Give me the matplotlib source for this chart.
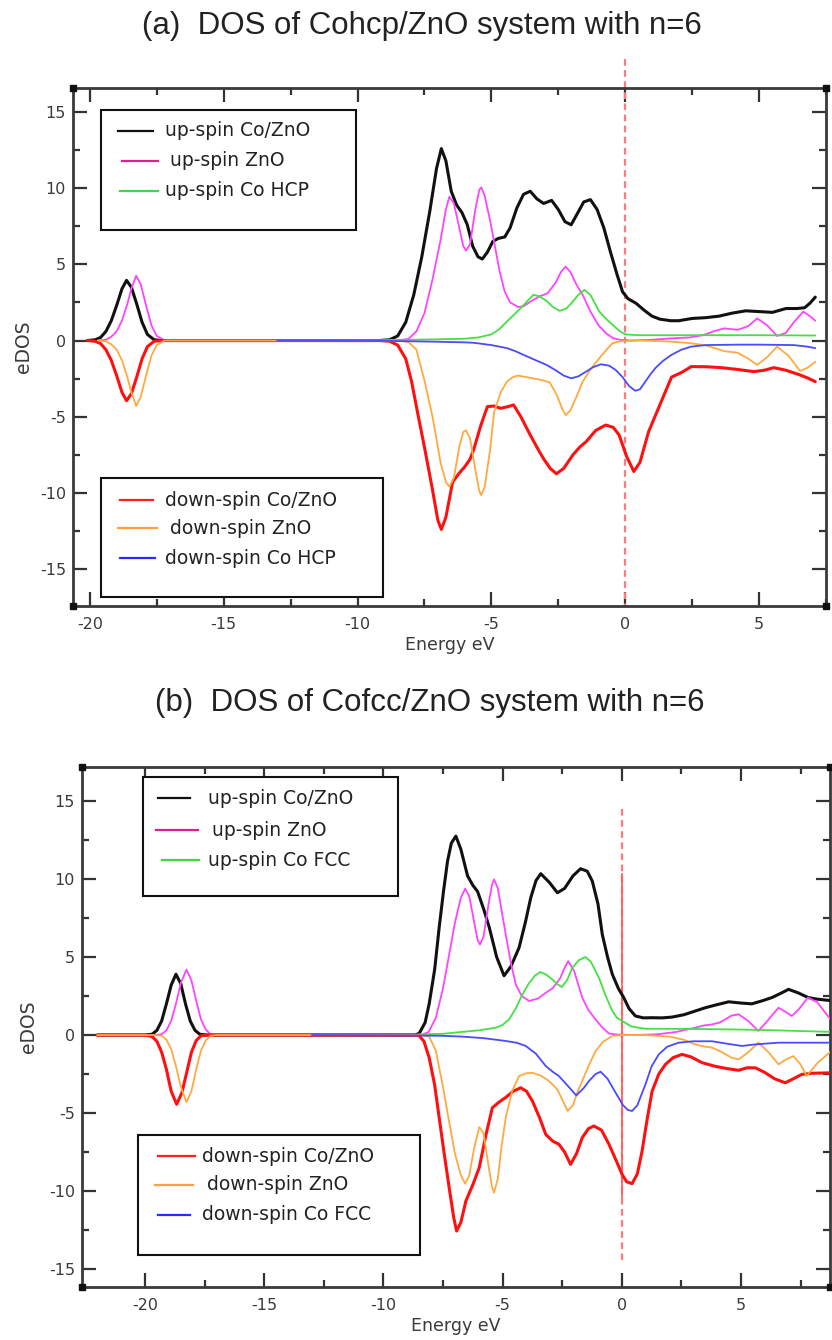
import matplotlib
matplotlib.use('Agg')
import matplotlib.pyplot as plt
from matplotlib.lines import Line2D
from matplotlib.patches import Rectangle

plt.rcParams['axes.unicode_minus'] = False
plt.rcParams['font.family'] = ['DejaVu Sans']

# ---------------- data: panel (a) Co hcp ----------------
a_up_total_x = [-20.1, -19.8, -19.6, -19.4, -19.2, -19.0, -18.8, -18.63, -18.45, -18.25, -18.05, -17.85, -17.6, -17.3,
                -9.2, -8.8, -8.5, -8.2, -7.9, -7.6, -7.3, -7.05, -6.87, -6.7, -6.5, -6.3, -6.1, -5.9, -5.7, -5.5, -5.34,
                -5.15, -4.95, -4.75, -4.5, -4.3, -4.05, -3.8, -3.55, -3.3, -3.05, -2.75, -2.5, -2.25, -2.02, -1.8, -1.55,
                -1.3, -1.05, -0.8, -0.55, -0.3, -0.1, 0.1, 0.4, 0.7, 1.0, 1.3, 1.7, 2.0, 2.5, 3.0, 3.5, 4.0, 4.5, 5.0,
                5.5, 6.0, 6.4, 6.7, 6.9, 7.1]
a_up_total_y = [0, 0.05, 0.2, 0.6, 1.3, 2.3, 3.4, 3.95, 3.5, 2.4, 1.2, 0.4, 0.05, 0,
                0, 0.05, 0.3, 1.2, 3.0, 5.5, 8.5, 11.3, 12.6, 11.8, 9.8, 8.9, 8.4, 7.6, 6.2, 5.5, 5.35,
                5.8, 6.5, 6.7, 6.8, 7.4, 8.7, 9.6, 9.8, 9.3, 9.0, 9.2, 8.6, 7.8, 7.6, 8.3, 9.1,
                9.25, 8.6, 7.4, 5.8, 4.3, 3.2, 2.75, 2.45, 2.0, 1.6, 1.4, 1.3, 1.3, 1.45, 1.5, 1.6, 1.8, 1.95, 1.9,
                1.85, 2.1, 2.1, 2.15, 2.45, 2.85]

a_up_zno_x = [-19.7, -19.4, -19.2, -19.0, -18.8, -18.6, -18.45, -18.27, -18.1, -17.9, -17.7, -17.5, -17.2,
              -8.6, -8.1, -7.8, -7.5, -7.2, -6.9, -6.7, -6.57, -6.4, -6.2, -6.05, -5.95, -5.8, -5.6, -5.45, -5.38,
              -5.25, -5.05, -4.9, -4.7, -4.5, -4.3, -4.0, -3.8, -3.5, -3.2, -2.9, -2.6, -2.4, -2.23, -2.05, -1.8,
              -1.59, -1.3, -1.0, -0.7, -0.45, -0.2, 0.2, 1.0, 1.8, 2.4, 2.9, 3.3, 3.7, 4.2, 4.6, 4.93, 5.3, 5.67,
              6.0, 6.3, 6.65, 6.9, 7.1]
a_up_zno_y = [0, 0.05, 0.25, 0.6, 1.3, 2.4, 3.4, 4.25, 3.7, 2.3, 1.0, 0.3, 0,
              0, 0.1, 0.6, 1.8, 4.0, 6.6, 8.6, 9.45, 9.0, 7.4, 6.2, 5.9, 6.3, 8.6, 9.9, 10.05,
              9.5, 7.9, 6.5, 4.6, 3.2, 2.5, 2.2, 2.25, 2.6, 2.9, 3.1, 3.8, 4.5, 4.85, 4.5, 3.6,
              3.0, 1.9, 1.0, 0.45, 0.15, 0.05, 0.0, 0.05, 0.15, 0.2, 0.35, 0.6, 0.8, 0.7, 0.95, 1.45, 1.0, 0.3,
              0.5, 1.2, 1.9, 1.6, 1.3]

a_up_co_x = [-13.0, -9.0, -8.0, -7.0, -6.0, -5.5, -5.0, -4.7, -4.42, -4.15, -3.92, -3.65, -3.43, -3.2, -2.94,
             -2.7, -2.45, -2.2, -1.96, -1.75, -1.52, -1.3, -0.97, -0.7, -0.48, -0.2, 0.01, 0.5, 1.5, 3.0, 5.0, 7.1]
a_up_co_y = [0, 0.02, 0.05, 0.08, 0.12, 0.2, 0.4, 0.75, 1.25, 1.7, 2.1, 2.6, 3.0, 2.9, 2.6,
             2.2, 1.95, 2.1, 2.55, 3.0, 3.33, 3.0, 1.9, 1.4, 1.05, 0.6, 0.4, 0.35, 0.35, 0.35, 0.35, 0.33]

a_dn_total_x = [-20.1, -19.8, -19.6, -19.4, -19.2, -19.0, -18.8, -18.63, -18.45, -18.25, -18.05, -17.85, -17.6, -17.3,
                -9.2, -8.8, -8.5, -8.2, -7.98, -7.75, -7.49, -7.2, -7.0, -6.87, -6.7, -6.45, -6.2, -6.0, -5.8, -5.65,
                -5.4, -5.15, -4.9, -4.66, -4.4, -4.17, -3.9, -3.55, -3.3, -3.06, -2.8, -2.57, -2.3, -1.96, -1.7, -1.46,
                -1.1, -0.73, -0.45, -0.23, 0.05, 0.32, 0.55, 0.87, 1.3, 1.73, 2.1, 2.47, 3.0, 3.58, 4.2, 4.8, 5.2,
                5.55, 6.0, 6.53, 6.8, 7.1]
a_dn_total_y = [0, -0.05, -0.2, -0.6, -1.3, -2.3, -3.4, -3.95, -3.5, -2.4, -1.2, -0.4, -0.05, 0,
                0, -0.05, -0.3, -1.2, -2.7, -4.8, -7.1, -9.8, -11.8, -12.4, -11.6, -9.3, -8.7, -8.3, -7.8, -7.1,
                -5.6, -4.34, -4.3, -4.45, -4.35, -4.23, -5.0, -6.2, -7.0, -7.74, -8.4, -8.75, -8.4, -7.52, -7.0, -6.64,
                -5.9, -5.55, -5.7, -6.2, -7.6, -8.6, -8.0, -6.0, -4.2, -2.4, -2.1, -1.71, -1.72, -1.78, -1.9, -2.04, -1.95,
                -1.78, -1.95, -2.26, -2.45, -2.7]

a_dn_zno_x = [-19.7, -19.4, -19.2, -19.0, -18.8, -18.6, -18.45, -18.27, -18.1, -17.9, -17.7, -17.5, -17.2,
              -8.6, -8.1, -7.8, -7.49, -7.2, -6.9, -6.7, -6.57, -6.4, -6.2, -6.05, -5.95, -5.8, -5.6, -5.45, -5.38,
              -5.25, -5.05, -4.9, -4.65, -4.42, -4.2, -4.0, -3.7, -3.4, -3.1, -2.82, -2.55, -2.35, -2.23, -2.05, -1.8,
              -1.59, -1.3, -0.97, -0.7, -0.48, -0.2, 0.5, 1.5, 2.3, 2.96, 3.35, 3.7, 4.2, 4.6, 4.93, 5.3, 5.67, 6.1,
              6.53, 6.8, 7.1]
a_dn_zno_y = [0, -0.05, -0.25, -0.6, -1.3, -2.4, -3.4, -4.3, -3.7, -2.3, -1.0, -0.3, 0,
              0, -0.1, -0.6, -2.7, -5.0, -8.0, -9.3, -9.6, -9.0, -7.0, -6.0, -5.9, -6.4, -8.5, -9.9, -10.15,
              -9.6, -7.2, -4.7, -3.4, -2.7, -2.4, -2.3, -2.4, -2.5, -2.6, -2.75, -3.6, -4.5, -4.9, -4.6, -3.6,
              -2.7, -1.9, -1.16, -0.6, -0.18, -0.05, 0.0, -0.05, -0.15, -0.3, -0.5, -0.7, -0.8, -1.2, -1.6, -1.1,
              -0.4, -1.0, -2.0, -1.8, -1.4]

a_dn_co_x = [-13.0, -9.0, -8.0, -7.0, -6.0, -5.65, -5.0, -4.42, -4.1, -3.8, -3.4, -2.94, -2.6, -2.3, -2.02, -1.75,
             -1.46, -1.2, -0.91, -0.6, -0.36, -0.1, 0.15, 0.38, 0.55, 0.75, 0.95, 1.12, 1.4, 1.73, 2.1, 2.47, 3.0,
             4.2, 5.0, 6.3, 6.8, 7.1]
a_dn_co_y = [0, -0.02, -0.05, -0.08, -0.12, -0.15, -0.3, -0.5, -0.7, -0.94, -1.25, -1.6, -1.95, -2.3, -2.48, -2.35,
             -2.04, -1.75, -1.56, -1.65, -1.93, -2.4, -3.0, -3.3, -3.2, -2.7, -2.2, -1.82, -1.35, -0.94, -0.6, -0.4, -0.3,
             -0.27, -0.27, -0.3, -0.4, -0.5]

# ---------------- data: panel (b) Co fcc ----------------
b_up_total_x = [-22.0, -20.0, -19.7, -19.5, -19.3, -19.1, -18.9, -18.7, -18.5, -18.3, -18.1, -17.9, -17.7, -17.4,
                -8.7, -8.5, -8.25, -8.08, -7.85, -7.66, -7.48, -7.31, -7.15, -6.96, -6.75, -6.47, -6.25, -6.05, -5.8,
                -5.56, -5.25, -4.94, -4.65, -4.31, -4.05, -3.82, -3.6, -3.4, -3.05, -2.7, -2.4, -2.05, -1.73, -1.45,
                -1.24, -1.0, -0.82, -0.6, -0.4, -0.15, 0.08, 0.3, 0.57, 0.9, 1.27, 1.7, 2.1, 2.6, 3.08, 3.5, 4.0,
                4.48, 5.0, 5.45, 5.9, 6.29, 6.7, 6.99, 7.4, 7.82, 8.2, 8.8]
b_up_total_y = [0, 0, 0.05, 0.3, 0.9, 2.0, 3.2, 3.9, 3.3, 2.0, 0.9, 0.3, 0.05, 0,
                0, 0.1, 0.8, 2.0, 4.2, 6.9, 9.2, 11.15, 12.3, 12.75, 11.9, 10.2, 9.6, 9.2, 8.1,
                6.9, 5.0, 3.8, 4.4, 5.6, 7.2, 8.8, 9.9, 10.34, 9.8, 9.12, 9.4, 10.2, 10.66, 10.5,
                9.87, 8.4, 6.45, 5.0, 3.9, 3.0, 2.4, 1.7, 1.22, 1.1, 1.11, 1.1, 1.15, 1.3, 1.54, 1.75, 1.95,
                2.13, 2.05, 2.0, 2.2, 2.4, 2.7, 2.93, 2.7, 2.4, 2.3, 2.2]

b_up_zno_x = [-22.0, -19.6, -19.3, -19.1, -18.9, -18.7, -18.5, -18.26, -18.05, -17.85, -17.65, -17.45, -17.25, -17.0,
              -8.4, -8.1, -7.8, -7.5, -7.24, -7.0, -6.75, -6.57, -6.4, -6.2, -6.05, -5.95, -5.8, -5.6, -5.45, -5.36,
              -5.2, -5.0, -4.87, -4.65, -4.45, -4.2, -3.89, -3.5, -3.19, -2.9, -2.6, -2.4, -2.25, -2.0, -1.66, -1.4,
              -1.1, -0.8, -0.54, -0.2, 0.5, 1.5, 2.3, 2.7, 3.08, 3.4, 3.78, 4.1, 4.34, 4.6, 4.9, 5.3, 5.73, 6.1,
              6.57, 6.85, 7.13, 7.45, 7.8, 8.2, 8.8]
b_up_zno_y = [0, 0, 0.05, 0.3, 0.9, 2.0, 3.3, 4.2, 3.5, 2.2, 1.0, 0.35, 0.05, 0,
              0, 0.2, 1.1, 3.0, 5.17, 7.2, 8.8, 9.38, 8.9, 7.3, 6.1, 5.8, 6.3, 8.3, 9.6, 9.98,
              9.4, 7.6, 6.45, 4.6, 3.25, 2.5, 2.18, 2.35, 2.71, 3.0, 3.6, 4.3, 4.74, 4.1, 2.39, 1.6,
              1.0, 0.45, 0.1, 0.03, 0.0, 0.05, 0.2, 0.35, 0.47, 0.6, 0.68, 0.8, 1.0, 1.25, 1.33, 0.9, 0.26, 0.9,
              1.75, 1.5, 1.22, 1.7, 2.4, 2.1, 0.9]

b_up_co_x = [-13.0, -9.0, -7.5, -6.7, -6.0, -5.28, -5.0, -4.73, -4.45, -4.17, -3.9, -3.65, -3.43, -3.2, -2.92,
             -2.7, -2.52, -2.3, -2.08, -1.8, -1.52, -1.3, -0.96, -0.7, -0.4, -0.2, 0.01, 0.4, 0.99, 2.0, 3.5, 5.0,
             6.5, 8.8]
b_up_co_y = [0, 0.02, 0.08, 0.2, 0.3, 0.47, 0.65, 1.0, 1.7, 2.6, 3.3, 3.8, 4.04, 3.9, 3.57,
             3.25, 3.08, 3.5, 4.3, 4.8, 5.0, 4.7, 3.67, 2.6, 1.54, 1.1, 0.9, 0.55, 0.4, 0.4, 0.38, 0.35,
             0.3, 0.2]

b_dn_total_x = [-22.0, -20.0, -19.7, -19.5, -19.3, -19.1, -18.9, -18.67, -18.45, -18.25, -18.05, -17.85, -17.65, -17.4,
                -8.7, -8.5, -8.3, -8.08, -7.85, -7.66, -7.45, -7.24, -7.05, -6.93, -6.75, -6.54, -6.25, -5.98, -5.7,
                -5.43, -5.15, -4.87, -4.55, -4.24, -4.0, -3.75, -3.45, -3.19, -2.9, -2.64, -2.4, -2.15, -1.9, -1.66,
                -1.4, -1.17, -0.85, -0.54, -0.25, 0.01, 0.2, 0.43, 0.65, 0.85, 1.05, 1.27, 1.55, 1.83, 2.15, 2.52,
                2.9, 3.36, 3.9, 4.4, 4.9, 5.25, 5.6, 6.0, 6.4, 6.85, 7.2, 7.55, 8.0, 8.8]
b_dn_total_y = [0, 0, -0.1, -0.4, -1.1, -2.2, -3.6, -4.44, -3.7, -2.4, -1.1, -0.35, -0.05, 0,
                0, -0.05, -0.4, -1.45, -3.2, -5.3, -7.6, -9.8, -11.7, -12.56, -12.0, -10.64, -9.6, -8.5, -6.4,
                -4.66, -4.3, -4.0, -3.6, -3.38, -3.6, -4.23, -5.3, -6.37, -6.8, -7.0, -7.5, -8.29, -7.6, -6.58,
                -6.0, -5.83, -6.1, -7.0, -8.0, -8.93, -9.4, -9.53, -8.9, -7.44, -5.5, -3.6, -2.5, -1.88, -1.45, -1.24,
                -1.4, -1.77, -2.0, -2.15, -2.26, -2.1, -2.1, -2.4, -2.8, -3.06, -2.8, -2.52, -2.45, -2.42]

b_dn_zno_x = [-22.0, -19.6, -19.3, -19.1, -18.9, -18.7, -18.5, -18.26, -18.05, -17.85, -17.65, -17.45, -17.25, -17.0,
              -8.4, -8.08, -7.8, -7.52, -7.25, -7.0, -6.75, -6.57, -6.4, -6.2, -5.98, -5.8, -5.6, -5.45, -5.36,
              -5.2, -5.05, -4.87, -4.6, -4.31, -4.0, -3.75, -3.4, -3.05, -2.7, -2.45, -2.27, -2.05, -1.85, -1.66,
              -1.4, -1.1, -0.8, -0.4, 0.0, 1.0, 2.0, 2.6, 3.08, 3.5, 3.78, 4.2, 4.6, 4.9, 5.3, 5.73, 6.15, 6.57,
              6.9, 7.2, 7.5, 7.75, 8.2, 8.8]
b_dn_zno_y = [0, 0, -0.05, -0.3, -0.9, -2.0, -3.3, -4.3, -3.6, -2.2, -1.0, -0.35, -0.05, 0,
              0, -0.1, -1.0, -3.16, -5.5, -7.6, -9.0, -9.53, -9.0, -7.3, -5.9, -6.3, -8.3, -9.7, -10.1,
              -9.2, -7.2, -5.3, -3.6, -2.63, -2.45, -2.42, -2.6, -2.95, -3.5, -4.3, -4.87, -4.5, -3.6, -2.95,
              -2.0, -1.03, -0.45, -0.06, 0.0, 0.0, -0.1, -0.3, -0.6, -0.75, -0.8, -1.1, -1.45, -1.56, -1.1, -0.49,
              -1.1, -1.88, -1.55, -1.35, -1.9, -2.63, -1.8, -1.0]

b_dn_co_x = [-13.0, -9.0, -7.5, -6.7, -5.8, -4.87, -4.4, -4.03, -3.6, -3.19, -2.9, -2.64, -2.3, -1.91, -1.6, -1.38,
             -1.1, -0.89, -0.6, -0.26, 0.05, 0.25, 0.43, 0.65, 0.99, 1.25, 1.55, 1.9, 2.38, 3.0, 3.78, 4.4, 5.03,
             5.6, 6.57, 7.5, 8.8]
b_dn_co_y = [0, -0.02, -0.05, -0.1, -0.2, -0.38, -0.5, -0.7, -1.2, -1.99, -2.35, -2.63, -3.2, -3.87, -3.4, -2.95,
             -2.5, -2.35, -2.8, -3.7, -4.5, -4.8, -4.87, -4.5, -3.16, -2.0, -1.24, -0.75, -0.49, -0.4, -0.4, -0.55, -0.7,
             -0.6, -0.49, -0.49, -0.49]

labels_a_up = ["up-spin Co/ZnO", "up-spin ZnO", "up-spin Co HCP"]
labels_a_dn = ["down-spin Co/ZnO", "down-spin ZnO", "down-spin Co HCP"]
labels_b_up = ["up-spin Co/ZnO", "up-spin ZnO", "up-spin Co FCC"]
labels_b_dn = ["down-spin Co/ZnO", "down-spin ZnO", "down-spin Co FCC"]
titles = ["(a)  DOS of Cohcp/ZnO system with n=6", "(b)  DOS of Cofcc/ZnO system with n=6"]
yticks = [-15, -10, -5, 0, 5, 10, 15]

# ---------------- styling ----------------
C_BLACK = '#111111'
C_MAG = '#ff44ff'
C_GREEN = '#44e044'
C_RED = '#ff1010'
C_ORANGE = '#ffaa40'
C_BLUE = '#4a4aff'
FERMI = '#ff7a7a'

W, H = 832, 1340
fig = plt.figure(figsize=(W / 100, H / 100), dpi=100)


def fx(px):
    return px / W


def fy(py):
    return 1 - py / H


def make_axes(l, t, r, b, xlim, ylim, xticks):
    ax = fig.add_axes([fx(l), fy(b), (r - l) / W, (b - t) / H])
    ax.set_xlim(*xlim)
    ax.set_ylim(*ylim)
    ax.set_xticks(xticks)
    ax.set_yticks(yticks)
    ax.set_xticks([t_ + 2.5 for t_ in xticks], minor=True)
    ax.set_yticks([-12.5, -7.5, -2.5, 2.5, 7.5, 12.5], minor=True)
    ax.tick_params(which='both', direction='in', top=True, right=True, color='#333333', width=1.6)
    ax.tick_params(which='major', length=10, labelsize=11.5, labelcolor='#3a3a3a', pad=5)
    ax.tick_params(which='minor', length=5)
    ax.tick_params(axis='x', which='major', pad=8)
    ax.tick_params(labelright=False, labeltop=False)
    for s in ax.spines.values():
        s.set_color('#3a3a3a')
        s.set_linewidth(2.0)
    ax.set_xlabel('Energy eV', fontsize=12.5, color='#3a3a3a', labelpad=3)
    ax.set_ylabel('eDOS', fontsize=13.5, color='#3a3a3a', labelpad=6)
    # little corner squares
    ax.plot([0, 0, 1, 1], [0, 1, 0, 1], 's', ms=4, color='#111111', transform=ax.transAxes, clip_on=False, zorder=6)
    return ax


def draw_curves(ax, up_t, up_z, up_c, dn_t, dn_z, dn_c):
    kw = dict(solid_joinstyle='round', solid_capstyle='round', zorder=3)
    ax.plot(*up_t, color=C_BLACK, lw=2.2, **kw)
    ax.plot(*up_z, color=C_MAG, lw=1.3, **kw)
    ax.plot(*up_c, color=C_GREEN, lw=1.3, **kw)
    ax.plot(*dn_t, color=C_RED, lw=2.2, **kw)
    ax.plot(*dn_z, color=C_ORANGE, lw=1.3, **kw)
    ax.plot(*dn_c, color=C_BLUE, lw=1.3, **kw)


def legend_box(box, rows, handles, text_x, labels, colors, hlw=1.6):
    l, t, r, b = box
    fig.add_artist(Rectangle((fx(l), fy(b)), (r - l) / W, (b - t) / H, transform=fig.transFigure,
                             facecolor='white', edgecolor='#111111', lw=1.5, zorder=10))
    for yy, (h0, h1), tx, lab, col in zip(rows, handles, text_x, labels, colors):
        fig.add_artist(Line2D([fx(h0), fx(h1)], [fy(yy), fy(yy)], color=col, lw=hlw,
                              transform=fig.transFigure, zorder=11))
        fig.text(fx(tx), fy(yy), lab, fontsize=13.5, color='#222222', va='center', ha='left', zorder=12)


# ---------------- panel (a) ----------------
ax_a = make_axes(73, 88, 826, 606, (-20.63, 7.14), (-17.43, 16.58), [-20, -15, -10, -5, 0, 5])
draw_curves(ax_a, (a_up_total_x, a_up_total_y), (a_up_zno_x, a_up_zno_y), (a_up_co_x, a_up_co_y),
            (a_dn_total_x, a_dn_total_y), (a_dn_zno_x, a_dn_zno_y), (a_dn_co_x, a_dn_co_y))
ax_a.plot([0, 0], [18.5, -17.43], color=FERMI, lw=1.6, ls=(0, (3, 2)), clip_on=False, zorder=2)
ax_a.yaxis.set_label_coords(-0.053, 0.5)

legend_box((101, 110, 356, 230), [131, 161, 191], [(118, 153), (122, 158), (120, 158)], [165, 170, 165],
           labels_a_up, ['#111111', '#e0208a', '#44d444'])
legend_box((101, 478, 383, 597), [500, 528, 558], [(120, 153), (118, 157), (120, 155)], [165, 170, 165],
           labels_a_dn, ['#ff2020', '#ffa040', '#2a2aff'])

# ---------------- panel (b) ----------------
ax_b = make_axes(82, 767, 830, 1287, (-22.64, 8.73), (-16.15, 17.18), [-20, -15, -10, -5, 0, 5])
draw_curves(ax_b, (b_up_total_x, b_up_total_y), (b_up_zno_x, b_up_zno_y), (b_up_co_x, b_up_co_y),
            (b_dn_total_x, b_dn_total_y), (b_dn_zno_x, b_dn_zno_y), (b_dn_co_x, b_dn_co_y))
ax_b.plot([0, 0], [14.5, -14.7], color=FERMI, lw=1.6, ls=(0, (3, 2)), zorder=2)
ax_b.plot([0, 0], [10.3, -10.4], color='#ff6060', lw=1.3, zorder=2)
ax_b.yaxis.set_label_coords(-0.059, 0.5)

legend_box((143, 777, 398, 896), [798, 830, 860], [(158, 190), (156, 198), (162, 199)], [208, 212, 208],
           labels_b_up, ['#111111', '#e0208a', '#44d444'])
legend_box((138, 1135, 420, 1255), [1156, 1185, 1215], [(158, 195), (155, 193), (158, 190)], [202, 207, 202],
           labels_b_dn, ['#ff2020', '#ffa040', '#2a2aff'])

# ---------------- titles ----------------
fig.text(fx(422), fy(26), titles[0], fontsize=22.5, family='Liberation Sans', color='#222222', ha='center', va='center')
fig.text(fx(430), fy(703), titles[1], fontsize=22.5, family='Liberation Sans', color='#222222', ha='center', va='center')

fig.savefig('out.png', dpi=100)
